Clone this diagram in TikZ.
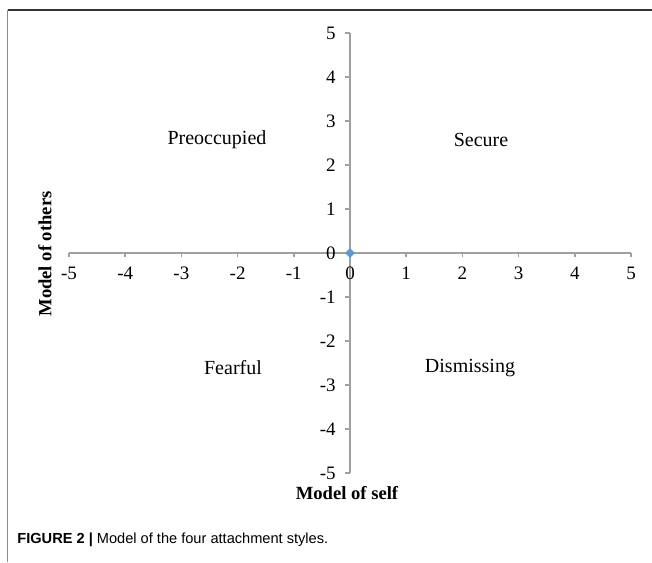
\documentclass[tikz,border=0pt]{standalone}
\usepackage{fontspec}
\setmainfont{Liberation Serif}
\newfontfamily\capfont{Liberation Sans}
\usetikzlibrary{shapes.geometric}
\definecolor{axisgray}{RGB}{160,160,160}
\definecolor{markblue}{RGB}{91,155,213}
\begin{document}
\begin{tikzpicture}[x=0.5pt,y=-0.5pt,
    ticklabel/.style={inner sep=0pt,font=\fontsize{9.5}{11}\selectfont},
    quadlabel/.style={inner sep=0pt,font=\fontsize{10}{12}\selectfont},
    axislabel/.style={inner sep=0pt,font=\fontsize{9.3}{11}\selectfont\bfseries}]
    \useasboundingbox (0,0) rectangle (652,562);

    % Frame
    \coordinate (tl) at (7.5,9.5);
    \coordinate (tr) at (652,9.5);
    \coordinate (bl) at (7.5,562);
    \draw[black!80,line width=1pt] (tl)--(tr);
    \draw[black!45,line width=0.8pt] (tl)--(bl);

    % Axis Coordinates
    \coordinate (o) at (350,253);
    \coordinate (xmin) at (69,253);
    \coordinate (xmax) at (631,253);
    \coordinate (ymin) at (350,473);
    \coordinate (ymax) at (350,33);

    % Axes
    \draw[axisgray,line width=0.75pt] (xmin)--(xmax);
    \draw[axisgray,line width=0.75pt] (ymin)--(ymax);

    \foreach \i in {-5,...,5} {
        \draw[axisgray,line width=0.75pt] (350+56.2*\i,253) -- ++(0,4);
        \node[ticklabel] at (350+56.2*\i,273) {\i};
        \draw[axisgray,line width=0.75pt] (350,253-44*\i) -- ++(-5,0);
        \node[ticklabel,anchor=east] at (336,253-44*\i) {\i};
    }

    \node[diamond,fill=markblue,inner sep=0pt,minimum size=5pt] (pt) at (o) {};

    % Text
    \node[quadlabel] (preoc) at (217,140) {Preoccupied};
    \node[quadlabel] (secure) at (481,140) {Secure};
    \node[quadlabel] (fearful) at (233,368) {Fearful};
    \node[quadlabel] (dismiss) at (470,368) {Dismissing};
    \node[axislabel,rotate=90] (others) at (45,254) {Model of others};
    \node[axislabel] (self) at (347,493) {Model of self};
    \node[anchor=west,inner sep=0pt] (cap) at (17,540)
        {\capfont\fontsize{7.3}{9}\selectfont\textbf{FIGURE 2 |} Model of the four attachment styles.};
\end{tikzpicture}
\end{document}
